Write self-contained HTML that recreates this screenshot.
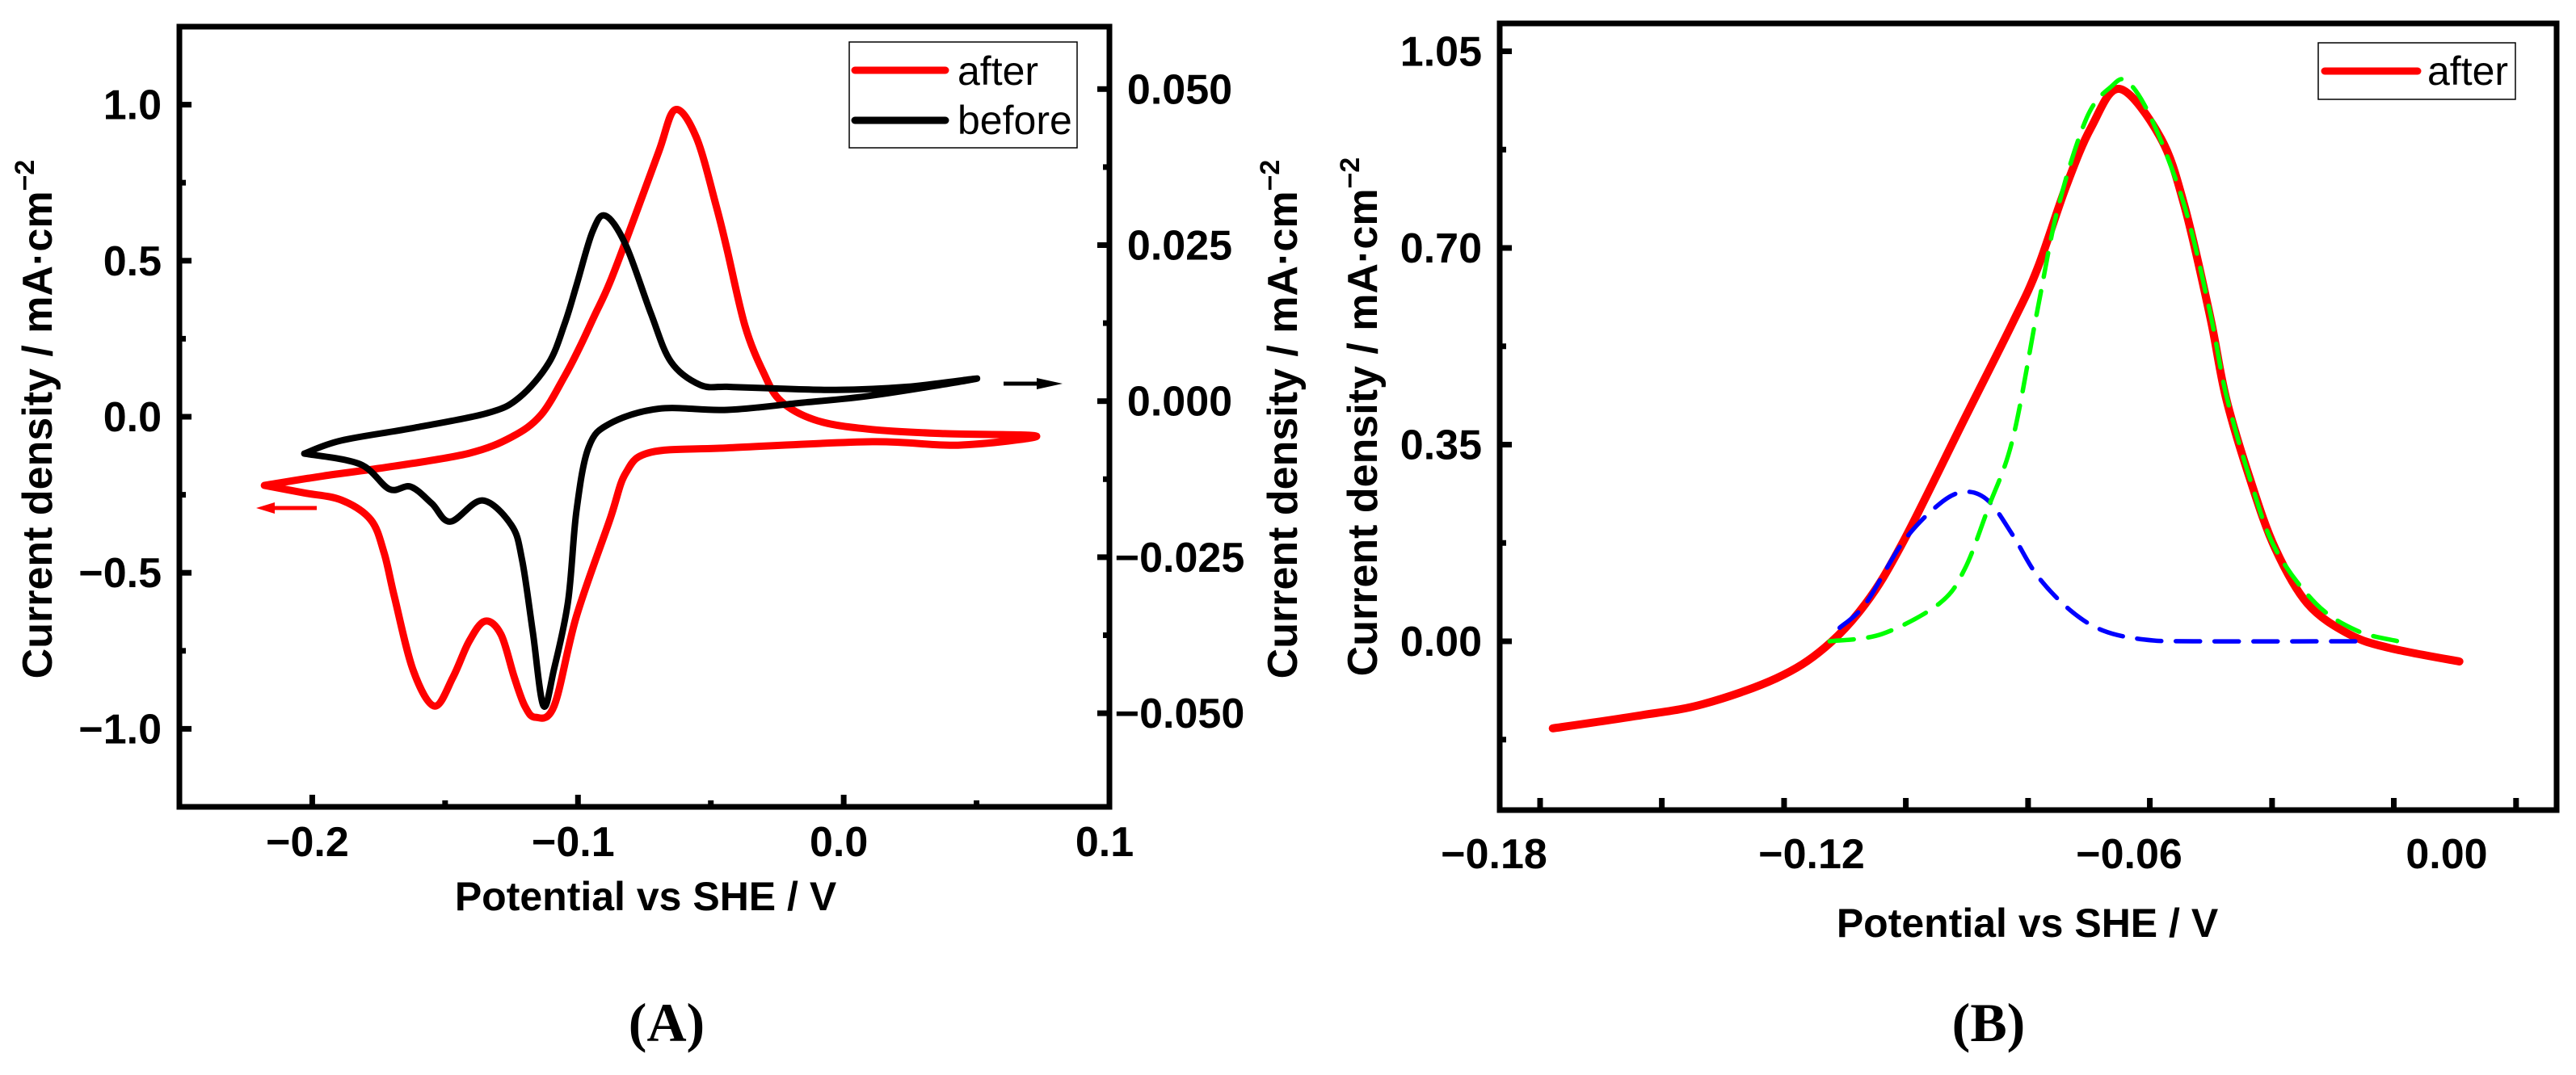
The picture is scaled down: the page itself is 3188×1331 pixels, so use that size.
<!DOCTYPE html>
<html><head><meta charset="utf-8">
<style>
html,body{margin:0;padding:0;background:#fff;}
svg{display:block;}
text{font-family:"Liberation Sans",Arial,sans-serif;}
</style></head>
<body>
<svg id="fig" width="3188" height="1331" viewBox="0 0 3188 1331" xmlns="http://www.w3.org/2000/svg">
<rect width="3188" height="1331" fill="#fff"/>
<g id="panelA"></g>
<g id="panelB"></g>
</svg>
<script>
// ---------- Panel A data ----------
const aAfterX = [-0.218,-0.196,-0.169,-0.141,-0.125,-0.114,-0.105,-0.0995,-0.094,-0.088,-0.079,-0.0695,-0.0634,-0.0555,-0.048,-0.0439,-0.0372,-0.0302,-0.0235,-0.0098,0.0107,0.038,0.0726,0.043,0.0107,-0.0439,-0.0726,-0.082,-0.088,-0.1006,-0.109,-0.116,-0.120,-0.124,-0.129,-0.135,-0.141,-0.147,-0.154,-0.162,-0.169,-0.173,-0.178,-0.189,-0.203,-0.218];
const aAfterY = [-0.22,-0.19,-0.158,-0.117,-0.065,0.005,0.13,0.22,0.32,0.43,0.632,0.852,0.984,0.896,0.676,0.536,0.293,0.142,0.049,-0.013,-0.041,-0.054,-0.062,-0.091,-0.080,-0.10,-0.114,-0.18,-0.33,-0.64,-0.927,-0.963,-0.927,-0.834,-0.697,-0.655,-0.72,-0.834,-0.927,-0.813,-0.58,-0.435,-0.33,-0.267,-0.244,-0.22];
const aBeforeX = [-0.203,-0.189,-0.162,-0.134,-0.122,-0.111,-0.105,-0.1006,-0.0945,-0.0896,-0.082,-0.0726,-0.065,-0.054,-0.0439,-0.030,-0.003,0.024,0.050,0.0107,-0.0168,-0.0439,-0.0695,-0.088,-0.096,-0.1006,-0.1037,-0.109,-0.113,-0.117,-0.121,-0.125,-0.136,-0.148,-0.155,-0.163,-0.171,-0.182,-0.203];
const aBeforeY = [-0.0084,-0.0063,-0.0043,-0.0019,0.0006,0.0061,0.0124,0.0185,0.0272,0.0297,0.025,0.0141,0.0063,0.0026,0.0023,0.0021,0.0018,0.0023,0.0036,0.0009,-0.0003,-0.0014,-0.0012,-0.0036,-0.0074,-0.0177,-0.032,-0.0429,-0.0488,-0.037,-0.0255,-0.0199,-0.0159,-0.0193,-0.0164,-0.0137,-0.0141,-0.0101,-0.0084];
const aXTicks = [-0.2,-0.1,0.0,0.1];
const aXTickLabels = ["\u22120.2","\u22120.1","0.0","0.1"];
const aXMinor = [-0.15,-0.05,0.05];
const aYTicks = [-1.0,-0.5,0.0,0.5,1.0];
const aYTickLabels = ["\u22121.0","\u22120.5","0.0","0.5","1.0"];
const aYMinor = [-0.75,-0.25,0.25,0.75];
const aY2Ticks = [-0.05,-0.025,0.0,0.025,0.05];
const aY2TickLabels = ["\u22120.050","\u22120.025","0.000","0.025","0.050"];
const aY2Minor = [-0.0375,-0.0125,0.0125,0.0375];

// ---------- Panel B data ----------
const bAfterX = [-0.1689,-0.1531,-0.1406,-0.1267,-0.1176,-0.1098,-0.1027,-0.0911,-0.0820,-0.0773,-0.0719,-0.0672,-0.0618,-0.0540,-0.0495,-0.0447,-0.0417,-0.0371,-0.0324,-0.0263,-0.0185,-0.0108,0.0024];
const bAfterY = [-0.155,-0.133,-0.112,-0.066,-0.012,0.067,0.177,0.396,0.567,0.664,0.810,0.914,0.983,0.895,0.773,0.578,0.433,0.287,0.165,0.067,0.013,-0.012,-0.036];
const bFit2X = [-0.1166,-0.1067,-0.0959,-0.0911,-0.0866,-0.0820,-0.0773,-0.0734,-0.0680,-0.0634,-0.0603,-0.0556,-0.0495,-0.0447,-0.0417,-0.0371,-0.0324,-0.0247,-0.0170,-0.0092];
const bFit2Y = [0.0,0.013,0.067,0.128,0.238,0.360,0.591,0.773,0.932,0.987,0.996,0.926,0.773,0.585,0.44,0.287,0.165,0.067,0.019,0.0];
const bFit1X = [-0.1147,-0.1098,-0.1027,-0.0959,-0.0911,-0.0866,-0.0820,-0.0773,-0.0711,-0.0649,-0.0571,-0.0479,-0.0170];
const bFit1Y = [0.024,0.067,0.177,0.244,0.266,0.250,0.189,0.116,0.055,0.019,0.003,0.0,0.0];
const bXTickLabelVals = [-0.18,-0.12,-0.06,0.00];
const bXTickLabels = ["\u22120.18","\u22120.12","\u22120.06","0.00"];
const bXTickVals = [-0.1713,-0.1483,-0.1252,-0.1022,-0.0791,-0.0561,-0.0330,-0.0100,0.0131];
const bYTicks = [0.0,0.35,0.70,1.05];
const bYTickLabels = ["0.00","0.35","0.70","1.05"];
const bYMinor = [-0.175,0.175,0.525,0.875];

const NS = "http://www.w3.org/2000/svg";
function mk(parent, tag, attrs, txt){
  const e = document.createElementNS(NS, tag);
  for (const k in attrs) e.setAttribute(k, attrs[k]);
  if (txt !== undefined) e.textContent = txt;
  parent.appendChild(e);
  return e;
}
function smoothPath(pts){
  let d = "M" + pts[0][0].toFixed(1) + "," + pts[0][1].toFixed(1);
  for (let i=0;i<pts.length-1;i++){
    const p0 = pts[Math.max(0,i-1)], p1 = pts[i], p2 = pts[i+1], p3 = pts[Math.min(pts.length-1,i+2)];
    const c1x = p1[0]+(p2[0]-p0[0])/6, c1y = p1[1]+(p2[1]-p0[1])/6;
    const c2x = p2[0]-(p3[0]-p1[0])/6, c2y = p2[1]-(p3[1]-p1[1])/6;
    d += " C"+c1x.toFixed(1)+","+c1y.toFixed(1)+" "+c2x.toFixed(1)+","+c2y.toFixed(1)+" "+p2[0].toFixed(1)+","+p2[1].toFixed(1);
  }
  return d;
}
function lin(d0,d1,r0,r1){ return v => r0 + (v-d0)*(r1-r0)/(d1-d0); }

// ================= PANEL A =================
(function(){
  const g = document.getElementById("panelA");
  const L=222, R=1373, T=33, B=999;
  const xA = lin(-0.25,0.1,L,R);
  const yA = lin(-1.25,1.25,B,T);
  const yA2 = lin(-0.065,0.06,B,T);

  const ptsAfter = aAfterX.map((v,i)=>[xA(v), yA(aAfterY[i])]);
  const after = mk(g,"path",{d:smoothPath(ptsAfter),fill:"none",stroke:"#ff0000","stroke-width":9,"stroke-linejoin":"round","stroke-linecap":"round"});
  
  
  const ptsBefore = aBeforeX.map((v,i)=>[xA(v), yA2(aBeforeY[i])]);
  const before = mk(g,"path",{d:smoothPath(ptsBefore),fill:"none",stroke:"#000","stroke-width":8,"stroke-linejoin":"round","stroke-linecap":"round"});
  
  

  const fr = mk(g,"rect",{x:L,y:T,width:R-L,height:B-T,fill:"none",stroke:"#000","stroke-width":7});
  
  

  aXTicks.forEach((v,i)=>{
    const x = xA(v);
    const t = mk(g,"line",{x1:x,y1:B,x2:x,y2:B-15,stroke:"#000","stroke-width":7});
    
    
    const lb = mk(g,"text",{x:x-6,y:1060,"text-anchor":"middle","font-size":52,"font-weight":"bold"},aXTickLabels[i]);
    
    
  });
  aXMinor.forEach(v=>{
    const x = xA(v);
    const t = mk(g,"line",{x1:x,y1:B,x2:x,y2:B-8,stroke:"#000","stroke-width":7});
    
    
  });
  aYTicks.forEach((v,i)=>{
    const y = yA(v);
    const t = mk(g,"line",{x1:L,y1:y,x2:L+15,y2:y,stroke:"#000","stroke-width":7});
    
    
    const lb = mk(g,"text",{x:200,y:y+18,"text-anchor":"end","font-size":52,"font-weight":"bold"},aYTickLabels[i]);
    
    
  });
  aYMinor.forEach(v=>{
    const y = yA(v);
    const t = mk(g,"line",{x1:L,y1:y,x2:L+8,y2:y,stroke:"#000","stroke-width":7});
    
    
  });
  aY2Ticks.forEach((v,i)=>{
    const y = yA2(v);
    const t = mk(g,"line",{x1:R,y1:y,x2:R-15,y2:y,stroke:"#000","stroke-width":7});
    
    
    const lb = mk(g,"text",{x:1460,y:y+18,"text-anchor":"middle","font-size":52,"font-weight":"bold"},aY2TickLabels[i]);
    
    
  });
  aY2Minor.forEach(v=>{
    const y = yA2(v);
    const t = mk(g,"line",{x1:R,y1:y,x2:R-8,y2:y,stroke:"#000","stroke-width":7});
    
    
  });

  const xt = mk(g,"text",{x:799,y:1127,"text-anchor":"middle","font-size":50,"font-weight":"bold"},"Potential vs SHE / V");
  
  
  function yTitle(cx,name){
    const t = mk(g,"text",{x:0,y:0,"text-anchor":"middle","font-size":52,"font-weight":"bold",transform:"translate("+cx+",519) rotate(-90)"});
    mk(t,"tspan",{},"Current density / mA\u00b7cm");
    mk(t,"tspan",{dy:-22,"font-size":34},"\u22122");
    
    
  }
  yTitle(64,'y-axis-title-a');
  yTitle(1605,'y2-axis-title-a');

  const ra = mk(g,"line",{x1:392,y1:629,x2:335,y2:629,stroke:"#ff0000","stroke-width":5});
  
  
  mk(g,"polygon",{points:"317,629 340,622 340,636",fill:"#ff0000"});
  const ba = mk(g,"line",{x1:1242,y1:475,x2:1295,y2:475,stroke:"#000","stroke-width":5});
  
  
  mk(g,"polygon",{points:"1315,475 1283,468 1283,482",fill:"#000"});

  const lg = mk(g,"g",{});
  
  
  mk(lg,"rect",{x:1051,y:52,width:282,height:131,fill:"#fff",stroke:"#000","stroke-width":1.5});
  const l1 = mk(lg,"line",{x1:1058,y1:87,x2:1170,y2:87,stroke:"#ff0000","stroke-width":9,"stroke-linecap":"round"});
  
  
  mk(lg,"text",{x:1185,y:105,"font-size":50},"after");
  const l2 = mk(lg,"line",{x1:1058,y1:149,x2:1170,y2:149,stroke:"#000","stroke-width":9,"stroke-linecap":"round"});
  
  
  mk(lg,"text",{x:1185,y:166,"font-size":50},"before");

  const cap = mk(g,"text",{x:825,y:1289,"text-anchor":"middle","font-size":68,"font-weight":"bold",style:"font-family:'Liberation Serif',serif"},"(A)");
  
  
})();

// ================= PANEL B =================
(function(){
  const g = document.getElementById("panelB");
  const L=1856, R=3164, T=29, B=1003;
  const xB = lin(-0.12,-0.06,2242,2635);
  const yB = lin(0,0.35,794,550.5);

  const ptsAfter = bAfterX.map((v,i)=>[xB(v), yB(bAfterY[i])]);
  const a = mk(g,"path",{d:smoothPath(ptsAfter),fill:"none",stroke:"#ff0000","stroke-width":10,"stroke-linejoin":"round","stroke-linecap":"round"});
  
  
  const pts1 = bFit1X.map((v,i)=>[xB(v), yB(bFit1Y[i])]);
  const f1 = mk(g,"path",{d:smoothPath(pts1),fill:"none",stroke:"#0000ff","stroke-width":5.5,"stroke-dasharray":"30,18","stroke-linecap":"round"});
  
  
  const pts2 = bFit2X.map((v,i)=>[xB(v), yB(bFit2Y[i])]);
  const f2 = mk(g,"path",{d:smoothPath(pts2),fill:"none",stroke:"#00ff00","stroke-width":5.5,"stroke-dasharray":"30,18","stroke-linecap":"round"});
  
  

  const fr = mk(g,"rect",{x:L,y:T,width:R-L,height:B-T,fill:"none",stroke:"#000","stroke-width":7});
  
  

  bXTickVals.forEach(v=>{
    const x = xB(v);
    const t = mk(g,"line",{x1:x,y1:B,x2:x,y2:B-15,stroke:"#000","stroke-width":7});
    
    
  });
  bXTickLabelVals.forEach((v,i)=>{
    const lb = mk(g,"text",{x:xB(v),y:1075,"text-anchor":"middle","font-size":52,"font-weight":"bold"},bXTickLabels[i]);
    
    
  });
  bYTicks.forEach((v,i)=>{
    const y = yB(v);
    const t = mk(g,"line",{x1:L,y1:y,x2:L+15,y2:y,stroke:"#000","stroke-width":7});
    
    
    const lb = mk(g,"text",{x:1834,y:y+18,"text-anchor":"end","font-size":52,"font-weight":"bold"},bYTickLabels[i]);
    
    
  });
  bYMinor.forEach(v=>{
    const y = yB(v);
    const t = mk(g,"line",{x1:L,y1:y,x2:L+8,y2:y,stroke:"#000","stroke-width":7});
    
    
  });

  const xt = mk(g,"text",{x:2509,y:1160,"text-anchor":"middle","font-size":50,"font-weight":"bold"},"Potential vs SHE / V");
  
  
  const yt = mk(g,"text",{x:0,y:0,"text-anchor":"middle","font-size":52,"font-weight":"bold",transform:"translate(1704,516) rotate(-90)"});
  mk(yt,"tspan",{},"Current density / mA\u00b7cm");
  mk(yt,"tspan",{dy:-22,"font-size":34},"\u22122");
  
  

  const lg = mk(g,"g",{});
  
  
  mk(lg,"rect",{x:2869,y:53,width:244,height:70,fill:"#fff",stroke:"#000","stroke-width":1.5});
  const l1 = mk(lg,"line",{x1:2877,y1:88,x2:2992,y2:88,stroke:"#ff0000","stroke-width":9,"stroke-linecap":"round"});
  
  
  mk(lg,"text",{x:3004,y:105,"font-size":50},"after");

  const cap = mk(g,"text",{x:2461,y:1289,"text-anchor":"middle","font-size":68,"font-weight":"bold",style:"font-family:'Liberation Serif',serif"},"(B)");
  
  
})();
</script>
</body></html>
